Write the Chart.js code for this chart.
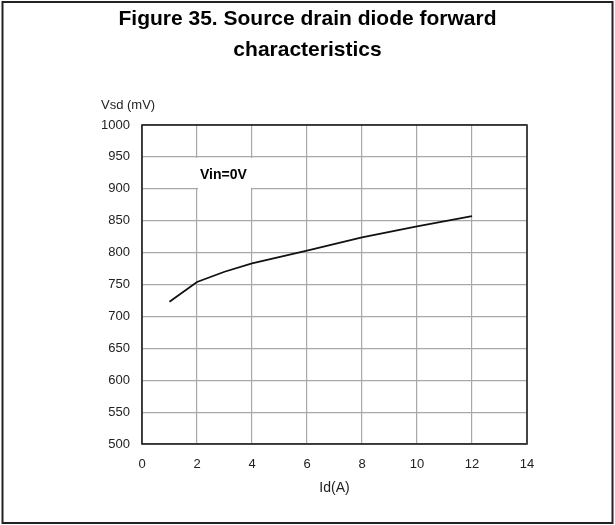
<!DOCTYPE html>
<html>
<head>
<meta charset="utf-8">
<script src="https://cdn.jsdelivr.net/npm/chart.js@4/dist/chart.umd.min.js"></script>
<style>
    body { margin: 0; background: #fff; }
    canvas { display: block; }
</style>
</head>
<body>
<canvas id="diodeChart" width="615" height="525"></canvas>
<script>
// values
const idAmps = [1, 2, 3, 4, 6, 8, 10, 12];
const vsdMilliVolts = [723, 754, 770, 783, 803, 824, 841, 857];
const xTicks = [0, 2, 4, 6, 8, 10, 12, 14];
const yTicks = [500, 550, 600, 650, 700, 750, 800, 850, 900, 950, 1000];
const titleLines = ["Figure 35. Source drain diode forward", "characteristics"];

document.addEventListener("DOMContentLoaded", function () {
    const ctx = document.getElementById("diodeChart").getContext("2d");
    const font = "'Liberation Sans', Arial, sans-serif";

    // outer box, label box, plot frame and the texts that Chart.js doesn't place itself
    const extras = {
        id: "extras",
        beforeDatasetsDraw(chart) {
            const c = chart.ctx;
            const x = chart.scales.x;
            const y = chart.scales.y;
            const area = chart.chartArea;

            // white cell behind the "Vin=0V" label
            const x2 = x.getPixelForValue(2), x4 = x.getPixelForValue(4);
            const y950 = y.getPixelForValue(950), y900 = y.getPixelForValue(900);
            c.save();
            c.fillStyle = "#fff";
            c.fillRect(x2 - 1.5, y950 + 1, x4 - x2 + 3, y900 - y950 - 2);
            c.fillRect(x2 + 1, y900 - 1.5, x4 - x2 - 2, 3);

            // plot frame
            c.strokeStyle = "#111";
            c.lineWidth = 1.5;
            c.strokeRect(area.left, area.top, area.right - area.left, area.bottom - area.top);
            c.strokeStyle = "#444";
            c.lineWidth = 2;
            c.beginPath();
            c.moveTo(area.right, area.top);
            c.lineTo(area.right, area.bottom);
            c.stroke();
            c.restore();
        },
        afterDraw(chart) {
            const c = chart.ctx;
            c.save();
            c.strokeStyle = "#222";
            c.lineWidth = 2;
            c.strokeRect(2.5, 2, 610, 521);

            c.fillStyle = "#222";
            c.font = "13px " + font;
            c.textAlign = "left";
            c.textBaseline = "middle";
            c.fillText("Vsd (mV)", 101, 105);

            c.fillStyle = "#000";
            c.font = "bold 14px " + font;
            c.fillText("Vin=0V", 200, 175);
            c.restore();
        }
    };

    new Chart(ctx, {
        type: "line",
        data: {
            datasets: [{
                data: idAmps.map((v, i) => ({ x: v, y: vsdMilliVolts[i] })),
                borderColor: "#111",
                borderWidth: 1.8,
                pointRadius: 0,
                tension: 0,
                fill: false
            }]
        },
        options: {
            responsive: false,
            animation: false,
            devicePixelRatio: 1,
            // equal side padding keeps the title centred on the page
            layout: { padding: { top: 0, left: 88, right: 88, bottom: 0 } },
            plugins: {
                legend: { display: false },
                tooltip: { enabled: false },
                title: {
                    display: true,
                    text: titleLines,
                    color: "#000",
                    font: { family: font, size: 21, weight: "bold", lineHeight: 1.5 },
                    padding: { top: 3, bottom: 59 }
                }
            },
            scales: {
                x: {
                    type: "linear",
                    min: xTicks[0],
                    max: xTicks[xTicks.length - 1],
                    afterFit: (s) => { s.height = 81; },
                    afterBuildTicks: (s) => { s.ticks = xTicks.map(v => ({ value: v })); },
                    grid: { color: "#a8a8a8", lineWidth: 1.2, drawTicks: false },
                    border: { display: false },
                    ticks: { color: "#222", padding: 13, font: { family: font, size: 13 } },
                    title: {
                        display: true,
                        text: "Id(A)",
                        color: "#222",
                        font: { family: font, size: 14 },
                        padding: { top: 0, bottom: 28 }
                    }
                },
                y: {
                    min: yTicks[0],
                    max: yTicks[yTicks.length - 1],
                    afterFit: (s) => { s.width = 54; },
                    afterBuildTicks: (s) => { s.ticks = yTicks.map(v => ({ value: v })); },
                    grid: { color: "#a8a8a8", lineWidth: 1.2, drawTicks: false },
                    border: { display: false },
                    ticks: {
                        color: "#222",
                        padding: 12,
                        font: { family: font, size: 13 },
                        callback: (v) => String(v)
                    }
                }
            }
        },
        plugins: [extras]
    });
});
</script>
</body>
</html>
